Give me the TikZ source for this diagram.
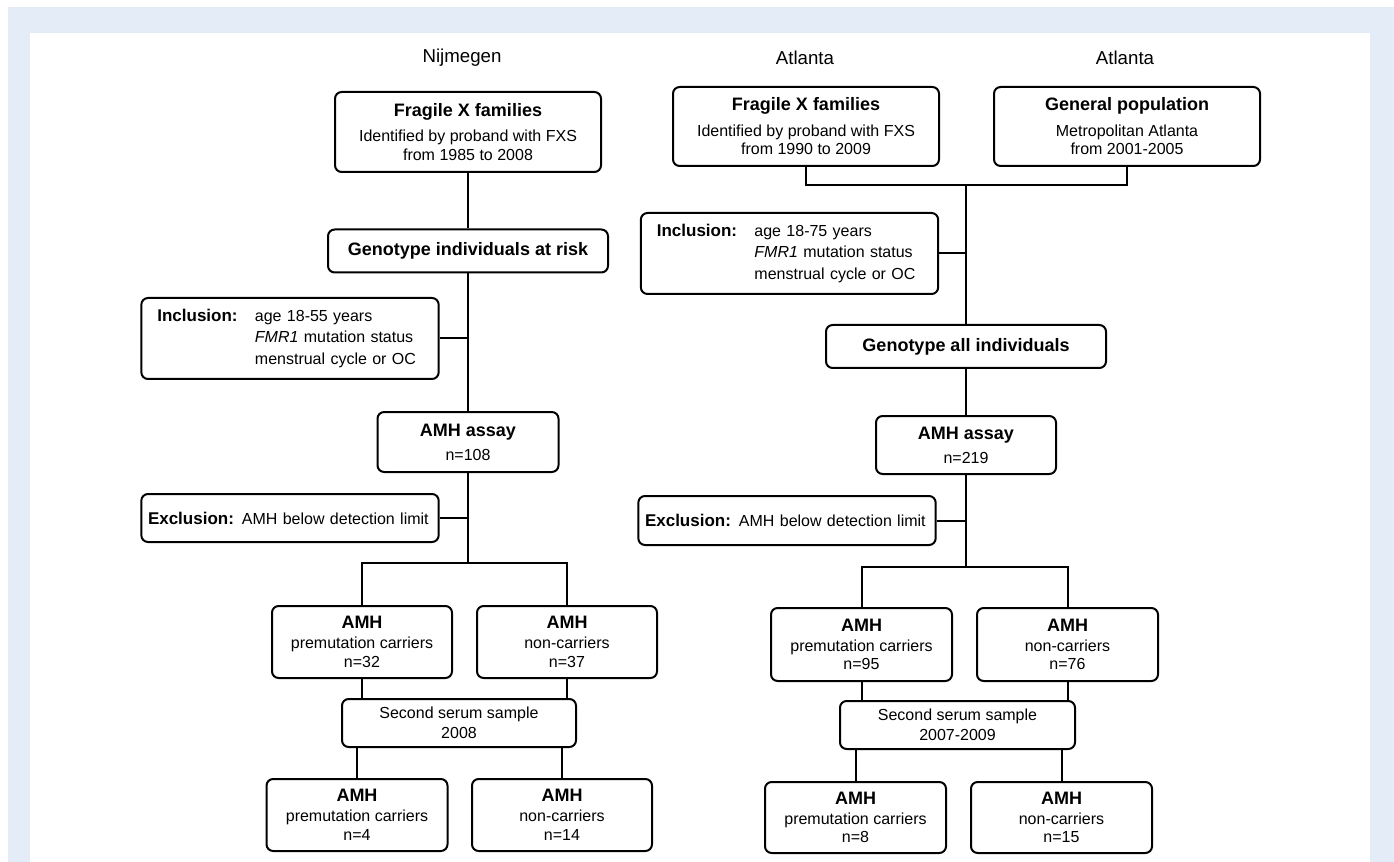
\documentclass[tikz,border=0pt]{standalone}
\usepackage{fontspec}
\setmainfont{Liberation Sans}
\usepackage{xcolor}
\definecolor{panelblue}{HTML}{E4ECF7}
\newcommand{\colfont}{\fontsize{14}{16}\selectfont}
\newcommand{\headfont}{\fontsize{13.5}{16}\selectfont\bfseries}
\newcommand{\bodyfont}{\fontsize{12}{14}\selectfont}
\newcommand{\tagfont}{\fontsize{12.75}{15}\selectfont\bfseries}
\newcommand{\inclist}[1]{\begin{tabular}[t]{@{}l@{}}#1\end{tabular}}

\begin{document}
\begin{tikzpicture}[x=0.75pt, y=-0.75pt,
  box/.style 2 args={draw, rounded corners=5pt, line width=1.5pt, minimum width=#1, minimum height=#2, inner sep=0pt, align=center, font=\bodyfont},
  listbox/.style={box={223pt}{#1}, inner xsep=5pt, text width=213pt, align=left, font=\fontsize{12}{16}\selectfont},
  colhead/.style={font=\colfont, inner sep=0pt},
  link/.style={line width=1.5pt}]
% page and panel
\useasboundingbox (0,0) rectangle (1394,862);
\fill[white] (0,0) rectangle (1394,862);
\fill[panelblue] (8,7) rectangle (1394,862);
\fill[white] (30,33) rectangle (1370,862);

% column headings
\node[colhead] (labN) at (462,58) {Nijmegen};
\node[colhead] (labA) at (805,58) {Atlanta};
\node[colhead] (labG) at (1125,58) {Atlanta};

% Nijmegen
\node[box={199.5pt}{60pt}] (famN) at (468,132) {{\headfont Fragile X families}\\[5pt]Identified by proband with FXS\\from 1985 to 2008};
\node[box={210pt}{32.25pt}] (genN) at (468,251) {\headfont Genotype individuals at risk};
\node[listbox={60.75pt}] (incN) at (290,338.5) {\hspace*{7pt}{\tagfont Inclusion:}\hspace{13pt}\inclist{age 18-55 years\\\textit{FMR1} mutation status\\menstrual cycle or OC}};
\node[box={135.75pt}{45pt}] (assN) at (468,442) {{\headfont AMH assay}\\[4pt]n=108};
\node[listbox={36pt}] (excN) at (290,518) {{\tagfont Exclusion:}\hspace{6pt}AMH below detection limit};
\coordinate (splitN) at (468,563);
\node[box={135pt}{54pt}] (premN) at (362,642) {{\headfont AMH}\\[1pt]premutation carriers\\n=32};
\node[box={135pt}{54pt}] (nonN) at (567,642) {{\headfont AMH}\\[1pt]non-carriers\\n=37};
\node[box={175.5pt}{36pt}] (serN) at (459,723) {Second serum sample\\[1pt]2008};
\node[box={135.75pt}{54pt}] (premN2) at (357,815) {{\headfont AMH}\\[1pt]premutation carriers\\n=4};
\node[box={135pt}{54pt}] (nonN2) at (562,815) {{\headfont AMH}\\[1pt]non-carriers\\n=14};

\draw[link] (famN) -- (genN);
\draw[link] (genN) -- (assN);
\draw[link] (incN.east) -- (incN.east -| genN.south);
\draw[link] (assN) -- (splitN);
\draw[link] (excN.east) -- (excN.east -| assN.south);
\draw[link] (premN.north) |- (splitN) -| (nonN.north);
\foreach \b in {premN,nonN}
  \draw[link] (\b.south) -- (\b.south |- serN.north);
\foreach \b in {premN2,nonN2}
  \draw[link] (\b.north) -- (\b.north |- serN.south);

% Atlanta
\node[box={199.5pt}{59.25pt}] (famA) at (806,126.5) {{\headfont Fragile X families}\\[5pt]Identified by proband with FXS\\from 1990 to 2009};
\node[box={199.5pt}{59.25pt}] (genpop) at (1127,126.5) {{\headfont General population}\\[5pt]Metropolitan Atlanta\\from 2001-2005};
\coordinate (joinA) at (966,185);
\node[listbox={60.75pt}] (incA) at (789.5,253.5) {\hspace*{7pt}{\tagfont Inclusion:}\hspace{13pt}\inclist{age 18-75 years\\\textit{FMR1} mutation status\\menstrual cycle or OC}};
\node[box={210pt}{32.25pt}] (genA) at (966,346.5) {\headfont Genotype all individuals};
\node[box={135pt}{43.5pt}] (assA) at (966,445) {{\headfont AMH assay}\\[4pt]n=219};
\node[listbox={36.75pt}] (excA) at (787,520.5) {{\tagfont Exclusion:}\hspace{6pt}AMH below detection limit};
\coordinate (splitA) at (966,567);
\node[box={135.75pt}{54.75pt}] (premA) at (861.5,644.5) {{\headfont AMH}\\[1pt]premutation carriers\\n=95};
\node[box={135.75pt}{54.75pt}] (nonA) at (1067.5,644.5) {{\headfont AMH}\\[1pt]non-carriers\\n=76};
\node[box={176.25pt}{36pt}] (serA) at (957.5,725) {Second serum sample\\[1pt]2007-2009};
\node[box={135.75pt}{53.25pt}] (premA2) at (855.5,817.5) {{\headfont AMH}\\[1pt]premutation carriers\\n=8};
\node[box={135.75pt}{53.25pt}] (nonA2) at (1061.5,817.5) {{\headfont AMH}\\[1pt]non-carriers\\n=15};

\draw[link] (famA.south) |- (joinA) -| (genpop.south);
\draw[link] (joinA) -- (genA);
\draw[link] (incA.east) -- (incA.east -| joinA);
\draw[link] (genA) -- (assA);
\draw[link] (assA) -- (splitA);
\draw[link] (excA.east) -- (excA.east -| assA.south);
\draw[link] (premA.north) |- (splitA) -| (nonA.north);
\foreach \b in {premA,nonA}
  \draw[link] (\b.south) -- (\b.south |- serA.north);
\foreach \b in {premA2,nonA2}
  \draw[link] (\b.north) -- (\b.north |- serA.south);
\end{tikzpicture}
\end{document}
